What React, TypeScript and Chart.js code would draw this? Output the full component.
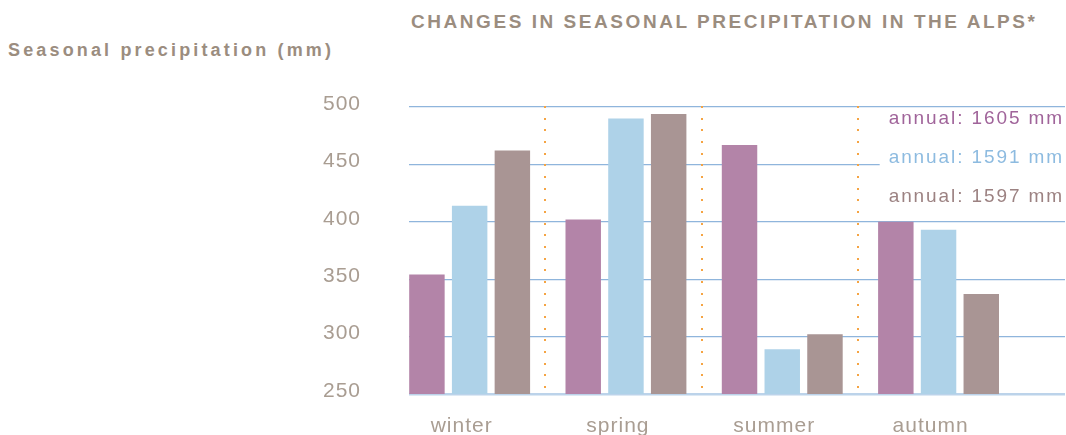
import React, { useEffect, useRef } from 'react';
import { Chart, registerables } from 'chart.js';

Chart.register(...registerables);

// ---- data ----
const seasons = ['winter', 'spring', 'summer', 'autumn'];
const seriesNames = ['Series 1', 'Series 2', 'Series 3'];
const purpleValues = [354, 402, 467, 400];
const blueValues = [414, 490, 289, 393];
const taupeValues = [462, 494, 302, 337];
const annualTotals = [1605, 1591, 1597];
const yTickValues = [250, 300, 350, 400, 450, 500];

// ---- styles ----
const barColors = ['#b384a8', '#aed2e8', '#a99594'];
const annualColors = ['#a0649a', '#8dbbe0', '#9c8282'];
const labelColor = '#9b8d7f';
const tickColor = '#a99d92';
const FONT = '"Liberation Sans", Arial, Helvetica, sans-serif';

const separatorPlugin = {
  id: 'separators',
  beforeDatasetsDraw(chart: any) {
    const { ctx, chartArea, scales } = chart;
    const xs = scales.x;
    ctx.save();
    ctx.fillStyle = '#f5a443';
    for (let i = 0; i < seasons.length - 1; i++) {
      const px = Math.round(xs.getPixelForValue(i + 0.485));
      for (let y = chartArea.top; y <= chartArea.bottom + 0.5; y += 11.67) {
        ctx.fillRect(px - 1, Math.round(y) - 1, 2, 2);
      }
    }
    ctx.restore();
  },
};

const tickSpacingPlugin = {
  id: 'tickSpacing',
  beforeDraw(chart: any) {
    chart.ctx.letterSpacing = '1px';
  },
  afterDraw(chart: any) {
    chart.ctx.letterSpacing = '0px';
  },
};

const annualPlugin = {
  id: 'annual',
  afterDraw(chart: any) {
    const { ctx, chartArea } = chart;
    ctx.save();
    ctx.font = `19px ${FONT}`;
    ctx.letterSpacing = '1.9px';
    ctx.textAlign = 'right';
    ctx.textBaseline = 'middle';
    const lines = annualTotals.map((v) => `annual: ${v} mm`);
    const widths = lines.map((l) => ctx.measureText(l).width);
    const maxW = Math.max(...widths);
    const right = chartArea.right - 1;
    const firstY = chartArea.top + 12;
    const step = 39;
    ctx.fillStyle = '#ffffff';
    ctx.fillRect(right - maxW - 9, firstY - 7, maxW + 12, step * (lines.length - 1) + 24);
    lines.forEach((l, i) => {
      ctx.fillStyle = annualColors[i];
      ctx.fillText(l, right, firstY + i * step);
    });
    ctx.restore();
  },
};

export default function App() {
  const canvasRef = useRef<HTMLCanvasElement | null>(null);

  useEffect(() => {
    const canvas = canvasRef.current;
    if (!canvas) return;
    const seriesValues = [purpleValues, blueValues, taupeValues];
    const chart = new Chart(canvas, {
      type: 'bar',
      data: {
        datasets: seriesValues.map((vals, k) => ({
          label: seriesNames[k],
          data: vals.map((v, i) => ({ x: i, y: v })),
          backgroundColor: barColors[k],
          borderWidth: 0,
          categoryPercentage: 0.82,
          barPercentage: 0.83,
        })),
      },
      options: {
        responsive: false,
        animation: false,
        devicePixelRatio: 1,
        layout: { padding: { top: 107, right: 1, left: 0, bottom: 0 } },
        plugins: {
          legend: { display: false },
          tooltip: { enabled: false },
          title: { display: false },
        },
        scales: {
          x: {
            type: 'linear',
            min: -0.388,
            max: 3.809,
            offset: false,
            grid: { display: false, drawTicks: false, offset: false },
            border: { display: false },
            afterBuildTicks: (s: any) => {
              s.ticks = seasons.map((_, i) => ({ value: i }));
            },
            afterFit: (s: any) => {
              s.height = 41;
              s.paddingLeft = 0;
              s.paddingRight = 0;
            },
            ticks: {
              autoSkip: false,
              maxRotation: 0,
              padding: 20,
              labelOffset: -8,
              color: tickColor,
              font: { family: FONT, size: 21 },
              callback: (v: any) => seasons[Math.round(Number(v))] ?? '',
            },
          },
          y: {
            min: 250,
            max: 500,
            border: { display: false },
            grid: {
              drawTicks: false,
              color: (c: any) => (c.tick && c.tick.value === 250 ? '#bcd3ea' : '#8fb5dc'),
              lineWidth: (c: any) => (c.tick && c.tick.value === 250 ? 2.5 : 1.3),
            },
            afterBuildTicks: (s: any) => {
              s.ticks = yTickValues.map((v) => ({ value: v }));
            },
            afterFit: (s: any) => {
              s.width = 409;
              s.paddingTop = 0;
              s.paddingBottom = 0;
            },
            ticks: {
              padding: 48,
              labelOffset: -3,
              color: tickColor,
              font: { family: FONT, size: 21 },
            },
          },
        },
      },
      plugins: [tickSpacingPlugin, separatorPlugin, annualPlugin],
    } as any);
    return () => chart.destroy();
  }, []);

  return (
    <div style={{ position: 'absolute', left: 0, top: 0, width: 1066, height: 435, background: '#fff' }}>
      <div
        style={{
          position: 'absolute',
          left: 411,
          top: 12,
          fontFamily: FONT,
          fontWeight: 'bold',
          fontSize: 19,
          lineHeight: '20px',
          letterSpacing: '2.55px',
          color: labelColor,
          whiteSpace: 'nowrap',
        }}
      >
        CHANGES IN SEASONAL PRECIPITATION IN THE ALPS*
      </div>
      <div
        style={{
          position: 'absolute',
          left: 8,
          top: 40,
          fontFamily: FONT,
          fontWeight: 'bold',
          fontSize: 18,
          lineHeight: '20px',
          letterSpacing: '3.15px',
          color: labelColor,
          whiteSpace: 'nowrap',
        }}
      >
        Seasonal precipitation (mm)
      </div>
      <canvas ref={canvasRef} width={1066} height={435} style={{ position: 'absolute', left: 0, top: 0 }} />
    </div>
  );
}
